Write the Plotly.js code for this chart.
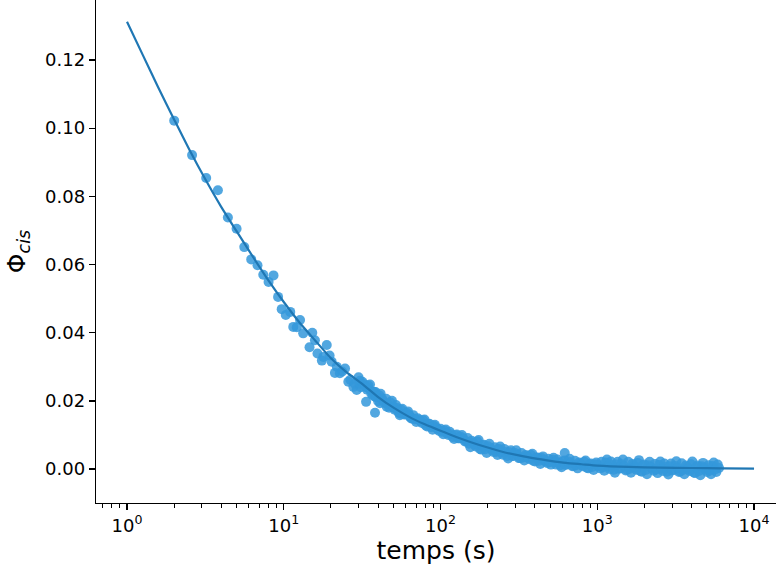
<!DOCTYPE html>
<html>
<head>
<meta charset="utf-8">
<script src="https://cdn.plot.ly/plotly-3.0.1.min.js"></script>
<style>html,body{margin:0;padding:0;background:#fff;}#chart{width:776px;height:571px;}</style>
</head>
<body>
<div id="chart"></div>
<script>
// Isolated early measurements (time in s, quantum yield)
const timeEarly = [2.0, 2.6, 3.2, 3.8, 4.4, 5.0, 5.6, 6.2, 6.8, 7.4, 8.0, 8.6, 9.2, 9.7, 10.3, 11.0, 11.5, 12.1, 12.7, 13.3,
  14.6, 15.2, 15.8, 16.4, 17.5, 17.9, 18.8, 19.6, 20.2, 21.2, 21.8, 22.8, 23.6, 24.6, 25.8, 26.6, 27.8, 28.4, 29.2, 30.6,
  33.5, 34.6, 37.2, 38.2, 38.2, 41.1, 45.4, 51.3, 55.2, 63.9];
const phiEarly = [0.1022, 0.0921, 0.0854, 0.0818, 0.0738, 0.0705, 0.0651, 0.0615, 0.0598, 0.0570, 0.0549, 0.0568, 0.0505, 0.0469, 0.0452, 0.0461, 0.0417, 0.0416, 0.0437, 0.0398,
  0.0357, 0.0400, 0.0378, 0.0339, 0.0318, 0.0329, 0.0364, 0.0333, 0.0315, 0.0282, 0.0300, 0.0281, 0.0286, 0.0295, 0.0256, 0.0262, 0.0241, 0.0250, 0.0232, 0.0259,
  0.0197, 0.0237, 0.0227, 0.0212, 0.0165, 0.0193, 0.0183, 0.0178, 0.0163, 0.0153];

// Dense part of the measurement cloud (outer points)
const timeDense = [30, 31, 32.5, 34, 35.5, 37, 38.5, 40, 41.5, 43, 45, 47, 49, 51, 53, 55, 57, 60, 62, 65,
  67, 70, 73, 76, 79, 82, 85, 89, 92, 96, 100, 104, 108, 112, 117, 122, 127, 132, 137, 143,
  149, 155, 161, 168, 175, 182, 189, 197, 205, 213, 222, 231, 240, 250, 260, 270, 281, 292, 304, 316,
  329, 342, 356, 370, 385, 400, 416, 433, 450, 468, 487, 506, 526, 547, 569, 592, 616, 620, 640, 666,
  692, 720, 749, 779, 810, 842, 876, 911, 947, 985, 1024, 1065, 1108, 1152, 1198, 1246, 1296, 1348, 1402, 1458,
  1516, 1577, 1640, 1705, 1773, 1844, 1918, 1995, 2074, 2157, 2244, 2333, 2427, 2524, 2625, 2730, 2839, 2953, 3071, 3193,
  3321, 3454, 3592, 3736, 3885, 4040, 4202, 4370, 4545, 4727, 4916, 5112, 5317, 5529, 5750, 5980];
const phiDense = [0.0269, 0.0240, 0.0249, 0.0233, 0.0248, 0.0216, 0.0226, 0.0199, 0.0221, 0.0201, 0.0206, 0.0180, 0.0200, 0.0174, 0.0179, 0.0158, 0.0177, 0.0160, 0.0169, 0.0148,
  0.0158, 0.0138, 0.0145, 0.0135, 0.0145, 0.0125, 0.0133, 0.0115, 0.0130, 0.0117, 0.0118, 0.0102, 0.0116, 0.0100, 0.0102, 0.0088, 0.0101, 0.0090, 0.0100, 0.0081,
  0.0091, 0.0064, 0.0078, 0.0066, 0.0085, 0.0057, 0.0071, 0.0047, 0.0074, 0.0056, 0.0064, 0.0041, 0.0066, 0.0042, 0.0050, 0.0031, 0.0055, 0.0038, 0.0055, 0.0032,
  0.0047, 0.0025, 0.0038, 0.0029, 0.0045, 0.0022, 0.0034, 0.0015, 0.0037, 0.0022, 0.0030, 0.0013, 0.0033, 0.0013, 0.0020, 0.0005, 0.0025, 0.0047, 0.0014, 0.0030,
  0.0008, 0.0024, 0.0002, 0.0016, 0.0008, 0.0025, 0.0002, 0.0016, -0.0003, 0.0019, 0.0008, 0.0021, -0.0005, 0.0028, 0.0000, 0.0012, -0.0011, 0.0021, 0.0002, 0.0028,
  -0.0004, 0.0021, -0.0011, 0.0011, -0.0002, 0.0026, -0.0008, 0.0013, -0.0015, 0.0021, 0.0001, 0.0015, -0.0012, 0.0022, -0.0006, 0.0006, -0.0016, 0.0016, -0.0002, 0.0023,
  -0.0009, 0.0017, -0.0015, 0.0006, -0.0006, 0.0022, -0.0012, 0.0010, -0.0018, 0.0018, -0.0002, 0.0011, -0.0015, 0.0019, -0.0009, 0.0003];

// Dense part of the measurement cloud (inner points)
const timeDense2 = [30.5, 31.7, 33.2, 34.7, 36.2, 37.7, 39.2, 40.7, 42.2, 44, 46, 48, 50, 52, 54, 56, 58.5, 61, 63.5, 66,
  68.5, 71.5, 74.5, 77.5, 80.5, 83.5, 87, 90.5, 94, 98, 102, 106, 110, 114.5, 119.5, 124.5, 129.5, 134.5, 140, 146,
  152, 158, 164.5, 171.5, 178.5, 185.5, 193, 201, 209, 217.5, 226.5, 235.5, 245, 255, 265, 275.5, 286.5, 298, 310, 322.5,
  335.5, 349, 363, 377.5, 392.5, 408, 424.5, 441.5, 459, 477.5, 496.5, 516, 536.5, 558, 580.5, 604, 628, 653, 679, 706,
  734.5, 764, 794.5, 826, 859, 893.5, 929, 966, 1004.5, 1044.5, 1086.5, 1130, 1175, 1222, 1271, 1322, 1375, 1430, 1487, 1546.5,
  1608.5, 1672.5, 1739, 1808.5, 1881, 1956.5, 2034.5, 2115.5, 2200.5, 2288.5, 2380, 2475.5, 2574.5, 2677.5, 2784.5, 2896, 3012, 3132, 3257, 3387.5,
  3523, 3664, 3810.5, 3962.5, 4121, 4286, 4457.5, 4636, 4821.5, 5014, 5214.5, 5423, 5639.5, 5865];
const phiDense2 = [0.0251, 0.0256, 0.0241, 0.0245, 0.0221, 0.0226, 0.0211, 0.0216, 0.0207, 0.0194, 0.0190, 0.0195, 0.0182, 0.0188, 0.0166, 0.0174, 0.0160, 0.0164, 0.0157, 0.0148,
  0.0146, 0.0149, 0.0140, 0.0143, 0.0128, 0.0133, 0.0123, 0.0127, 0.0121, 0.0112, 0.0109, 0.0113, 0.0105, 0.0109, 0.0094, 0.0099, 0.0090, 0.0095, 0.0089, 0.0081,
  0.0074, 0.0083, 0.0072, 0.0081, 0.0059, 0.0070, 0.0058, 0.0067, 0.0060, 0.0050, 0.0050, 0.0059, 0.0049, 0.0059, 0.0038, 0.0049, 0.0038, 0.0047, 0.0041, 0.0032,
  0.0034, 0.0041, 0.0034, 0.0041, 0.0024, 0.0033, 0.0024, 0.0032, 0.0026, 0.0018, 0.0020, 0.0027, 0.0020, 0.0028, 0.0011, 0.0021, 0.0012, 0.0022, 0.0017, 0.0009,
  0.0011, 0.0019, 0.0012, 0.0021, 0.0004, 0.0014, 0.0006, 0.0014, 0.0012, 0.0002, 0.0005, 0.0019, 0.0008, 0.0022, -0.0002, 0.0013, 0.0001, 0.0014, 0.0008, -0.0002,
  0.0001, 0.0015, 0.0005, 0.0018, -0.0006, 0.0010, -0.0003, 0.0011, 0.0005, -0.0005, -0.0001, 0.0012, 0.0002, 0.0016, -0.0008, 0.0008, -0.0004, 0.0009, 0.0003, -0.0007,
  -0.0003, 0.0010, 0.0000, 0.0014, -0.0010, 0.0006, -0.0006, 0.0008, 0.0002, -0.0009, -0.0005, 0.0009, -0.0001, 0.0013];

// Fitted curve
const fitTime = [1, 1.26, 1.58, 2, 2.51, 3.16, 3.98, 5.01, 6.31, 7.94, 10, 12.6, 15.8, 20, 25.1, 31.6, 39.8, 50.1, 63.1, 79.4,
  100, 126, 158, 200, 251, 316, 398, 501, 631, 794, 1000, 1585, 2512, 3981, 6310, 10000];
const fitPhi = [0.1312, 0.1215, 0.1120, 0.1025, 0.0935, 0.0850, 0.0770, 0.0697, 0.0625, 0.0555, 0.0490, 0.0430, 0.0378, 0.0325, 0.0284, 0.0250, 0.0212, 0.0180, 0.0153, 0.0131,
  0.0112, 0.0094, 0.0078, 0.0063, 0.0050, 0.0040, 0.0031, 0.0024, 0.0018, 0.0014, 0.0010, 0.0006, 0.0004, 0.0003, 0.0002, 0.0001];

const xMajor = [1, 10, 100, 1000, 10000];
const xMajorText = ['10<sup>0</sup>', '10<sup>1</sup>', '10<sup>2</sup>', '10<sup>3</sup>', '10<sup>4</sup>'];
const yTicks = [0, 0.02, 0.04, 0.06, 0.08, 0.10, 0.12];

const xMinor = [];
[0.1, 1, 10, 100, 1000, 10000].forEach(d => { for (let k = 2; k <= 9; k++) xMinor.push(d * k); });

const font = {family: 'DejaVu Sans, sans-serif', color: '#000'};

const traces = [
  {
    x: timeEarly.concat(timeDense, timeDense2), y: phiEarly.concat(phiDense, phiDense2),
    type: 'scatter', mode: 'markers',
    marker: {size: 10, color: '#3498db', opacity: 0.85, line: {width: 0}},
    hoverinfo: 'skip'
  },
  {
    x: fitTime, y: fitPhi, type: 'scatter', mode: 'lines',
    line: {color: '#1f77b4', width: 2.2, shape: 'spline', smoothing: 0.6},
    hoverinfo: 'skip'
  }
];

const layout = {
  width: 776, height: 571,
  margin: {l: 96, r: 0, t: 0, b: 68, pad: 0},
  paper_bgcolor: '#fff', plot_bgcolor: '#fff',
  showlegend: false,
  font: font,
  xaxis: {
    type: 'log', range: [-0.1978, 4.140], autorange: false,
    tickmode: 'array', tickvals: xMajor, ticktext: xMajorText,
    ticks: 'outside', ticklen: 6, tickwidth: 1.3, tickcolor: '#000',
    showline: true, linecolor: '#000', linewidth: 1.3, mirror: false,
    showgrid: false, zeroline: false,
    tickfont: {family: font.family, size: 18, color: '#000'},
    minor: {tickmode: 'array', tickvals: xMinor, ticks: 'outside', ticklen: 3.5, tickwidth: 1, tickcolor: '#000', showgrid: false},
    title: {text: 'temps (s)', font: {family: font.family, size: 25, color: '#000'}, standoff: 6},
    automargin: false
  },
  yaxis: {
    range: [-0.00997, 0.1376], autorange: false,
    tickmode: 'array', tickvals: yTicks, tickformat: '.2f',
    ticks: 'outside', ticklen: 6, tickwidth: 1.3, tickcolor: '#000',
    showline: true, linecolor: '#000', linewidth: 1.3, mirror: false,
    showgrid: false, zeroline: false,
    tickfont: {family: font.family, size: 18, color: '#000'},
    title: {text: 'Φ<sub><i>cis</i></sub>', font: {family: font.family, size: 25, color: '#000'}, standoff: 12},
    automargin: false
  }
};

Plotly.newPlot('chart', traces, layout, {staticPlot: true, displayModeBar: false});
</script>
</body>
</html>
